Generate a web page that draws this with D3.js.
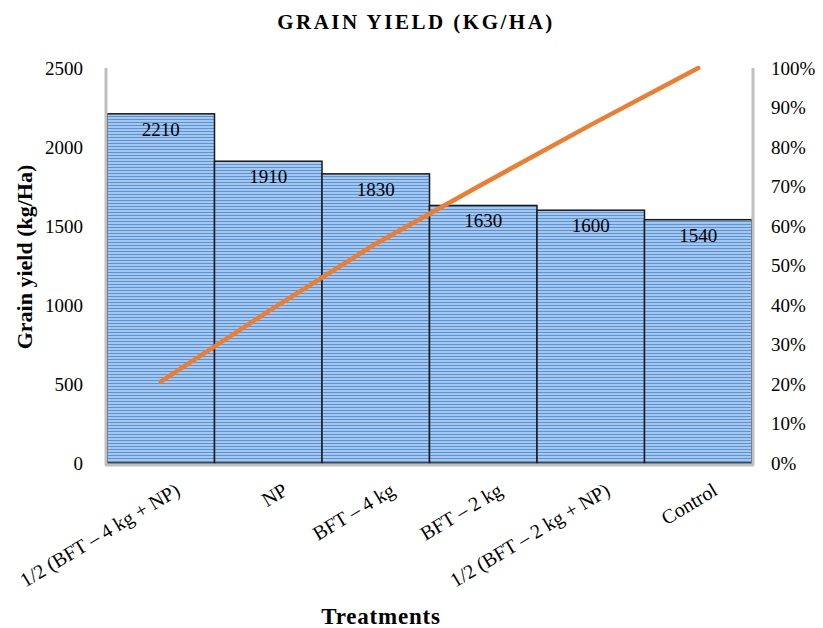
<!DOCTYPE html>
<html><head><meta charset="utf-8">
<script src="https://cdn.jsdelivr.net/npm/d3@7"></script>
<style>
body{margin:0;background:#fff;}
text{font-family:"Liberation Serif","Times New Roman",serif;fill:#000;}
</style></head>
<body><svg id="c" width="823" height="628"></svg>
<script>
const categories = ["1/2 (BFT – 4 kg + NP)", "NP", "BFT – 4 kg", "BFT – 2 kg", "1/2 (BFT – 2 kg + NP)", "Control"];
const yieldValues = [2210, 1910, 1830, 1630, 1600, 1540];
const cumulativePct = [20.6, 38.4, 55.5, 70.7, 85.6, 100];
const leftTicks = [0, 500, 1000, 1500, 2000, 2500];
const rightTicks = [0, 10, 20, 30, 40, 50, 60, 70, 80, 90, 100];

const svg = d3.select("#c");
const m = {l:107, r:752, t:68, b:463};
const x = d3.scaleBand().domain(categories).range([m.l, m.r]).padding(0);
const y = d3.scaleLinear().domain([0, 2500]).range([m.b, m.t]);
const y2 = d3.scaleLinear().domain([0, 100]).range([m.b, m.t]);

// stripe pattern
const defs = svg.append("defs");
const pat = defs.append("pattern").attr("id","stripes").attr("patternUnits","userSpaceOnUse")
  .attr("width",8).attr("height",3);
pat.append("rect").attr("width",8).attr("height",3).attr("fill","#a6c6ec");
pat.append("rect").attr("y",2).attr("width",8).attr("height",1).attr("fill","#5794d8");

// axis lines (gray)
const g = svg.append("g");
g.append("line").attr("x1",m.l-1).attr("x2",m.l-1).attr("y1",m.t).attr("y2",m.b+2)
  .attr("stroke","#bfbfbf").attr("stroke-width",3);
g.append("line").attr("x1",m.r+1).attr("x2",m.r+1).attr("y1",m.t).attr("y2",m.b+2)
  .attr("stroke","#bfbfbf").attr("stroke-width",3);

// bars
svg.append("g").selectAll("rect").data(yieldValues).join("rect")
  .attr("x",(d,i)=>x(categories[i]))
  .attr("y",d=>y(d))
  .attr("width",x.bandwidth())
  .attr("height",d=>y(0)-y(d))
  .attr("fill","url(#stripes)")
  .attr("stroke","#1a1a1a").attr("stroke-width",1.5);

g.raise();
g.append("line").attr("x1",m.l-2).attr("x2",m.r+2).attr("y1",m.b+2).attr("y2",m.b+2)
  .attr("stroke","#bfbfbf").attr("stroke-width",3);

// bar labels
svg.append("g").selectAll("text").data(yieldValues).join("text")
  .attr("x",(d,i)=>x(categories[i])+x.bandwidth()/2)
  .attr("y",d=>y(d)+22)
  .attr("text-anchor","middle").attr("font-size",19)
  .text(d=>d);

// line
const line = d3.line().x((d,i)=>x(categories[i])+x.bandwidth()/2).y(d=>y2(d));
svg.append("path").datum(cumulativePct).attr("d",line)
  .attr("fill","none").attr("stroke","#ED7D31").attr("stroke-width",4.5)
  .attr("stroke-linecap","round").attr("stroke-linejoin","round");

// left axis
const la = svg.append("g").attr("transform",`translate(${m.l-24},0)`)
  .call(d3.axisLeft(y).tickValues(leftTicks).tickSize(0).tickPadding(0).tickFormat(d3.format("d")));
la.select(".domain").remove();
la.selectAll("text").attr("font-size",19).attr("font-family","Liberation Serif").attr("fill","#000");

// right axis
const ra = svg.append("g").attr("transform",`translate(${m.r+19},0)`)
  .call(d3.axisRight(y2).tickValues(rightTicks).tickSize(0).tickPadding(0).tickFormat(d=>d+"%"));
ra.select(".domain").remove();
ra.selectAll("text").attr("font-size",19).attr("font-family","Liberation Serif").attr("fill","#000");

// x labels
svg.append("g").selectAll("text").data(categories).join("text")
  .attr("transform",d=>`translate(${x(d)+x.bandwidth()/2+17},${m.b+25}) rotate(-31)`)
  .attr("text-anchor","end").attr("dy","0.35em").attr("font-size",20)
  .text(d=>d);

// titles
svg.append("text").attr("x",416).attr("y",29).attr("text-anchor","middle")
  .attr("font-size",21).attr("font-weight","bold").attr("letter-spacing",2.5)
  .text("GRAIN YIELD (KG/HA)");
svg.append("text").attr("transform","translate(32,257) rotate(-90)").attr("text-anchor","middle")
  .attr("font-size",22).attr("font-weight","bold")
  .text("Grain yield (kg/Ha)");
svg.append("text").attr("x",381).attr("y",624).attr("text-anchor","middle")
  .attr("font-size",23).attr("font-weight","bold").attr("letter-spacing",0.8)
  .text("Treatments");
</script></body></html>
